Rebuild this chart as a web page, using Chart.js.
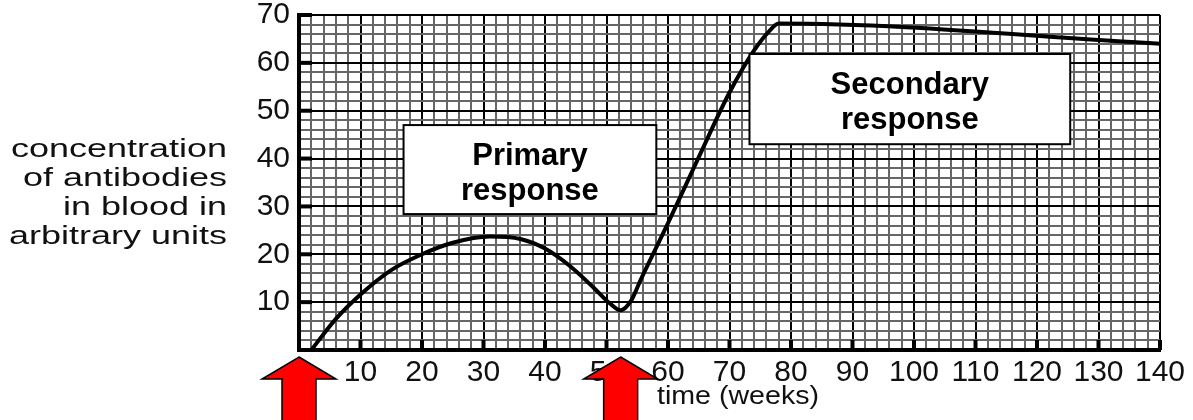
<!DOCTYPE html>
<html>
<head>
<meta charset="utf-8">
<script src="https://cdn.jsdelivr.net/npm/chart.js@4.4.0/dist/chart.umd.min.js"></script>
<style>
  html, body { margin: 0; padding: 0; background: #fff; }
</style>
</head>
<body>
<canvas id="myChart" width="1193" height="420"></canvas>
<script>
// data
var weeks      = [2, 6, 10, 15, 20, 25, 31, 36, 40, 44, 48, 50.5, 52.3, 54, 55.5, 60, 65, 70, 74, 76.5, 78, 140];
var antibodies = [0, 6.5, 11.6, 16.7, 20.0, 22.4, 23.7, 23.2, 21.2, 17.6, 12.9, 9.8, 8.3, 10.3, 14.5, 26.5, 40.3, 53.8, 62.6, 66.7, 68.2, 64];

var xTickLabels = [10, 20, 30, 40, 50, 60, 70, 80, 90, 100, 110, 120, 130, 140];
var yTickLabels = [10, 20, 30, 40, 50, 60, 70];

var yTitleLines = ['concentration', 'of antibodies', 'in blood in', 'arbitrary units'];
var xTitle = 'time (weeks)';

// text boxes, in weeks / units
var boxLines  = [['Primary', 'response'], ['Secondary', 'response']];
var boxWeeks  = [[17, 58.1], [73.25, 125.4]];
var boxLevels = [[47, 28.4], [61.85, 43]];

// antigen injections
var injectionWeeks = [0, 52.3];

var FONT = '"Liberation Sans", Arial, Helvetica, sans-serif';

function gridColor(c) {
  return c.tick.value % 10 === 0 ? '#000' : '#666';
}

function drawArrow(ctx, cx, tipY) {
  ctx.beginPath();
  ctx.moveTo(cx, tipY);
  ctx.lineTo(cx + 37, tipY + 22);
  ctx.lineTo(cx + 17, tipY + 22);
  ctx.lineTo(cx + 17, 425);
  ctx.lineTo(cx - 17, 425);
  ctx.lineTo(cx - 17, tipY + 22);
  ctx.lineTo(cx - 37, tipY + 22);
  ctx.closePath();
  ctx.fillStyle = '#ff0000';
  ctx.fill();
  ctx.lineWidth = 1.5;
  ctx.strokeStyle = '#000';
  ctx.stroke();
}

// stretched text, the picture is wider than normal type
function stretchText(ctx, s, x, y, sx, align) {
  ctx.save();
  ctx.translate(x, y);
  ctx.scale(sx, 1);
  ctx.textAlign = align;
  ctx.fillText(s, 0, 0);
  ctx.restore();
}

const extras = {
  id: 'extras',
  afterDatasetsDraw(chart) {
    const ctx = chart.ctx;
    const x = chart.scales.x, y = chart.scales.y;
    ctx.save();
    // short ticks inside the axes
    ctx.fillStyle = '#000';
    xTickLabels.forEach(v => {
      const px = x.getPixelForValue(v);
      ctx.fillRect(px - 2, y.bottom - 10, 4, 10);
    });
    yTickLabels.forEach(v => {
      const py = y.getPixelForValue(v);
      ctx.fillRect(x.left, py - 2, 13, 4);
    });
    // response boxes
    boxLines.forEach((lines, i) => {
      const l = x.getPixelForValue(boxWeeks[i][0]);
      const r = x.getPixelForValue(boxWeeks[i][1]);
      const t = y.getPixelForValue(boxLevels[i][0]);
      const b = y.getPixelForValue(boxLevels[i][1]);
      ctx.fillStyle = '#fff';
      ctx.fillRect(l, t, r - l, b - t);
      ctx.lineWidth = 2;
      ctx.strokeStyle = '#000';
      ctx.strokeRect(l, t, r - l, b - t);
      ctx.fillStyle = '#000';
      ctx.font = 'bold 31px ' + FONT;
      ctx.textAlign = 'center';
      ctx.textBaseline = 'alphabetic';
      lines.forEach((s, k) => ctx.fillText(s, (l + r) / 2, t + 40 + k * 35));
    });
    ctx.restore();
  },
  afterDraw(chart) {
    const ctx = chart.ctx;
    const x = chart.scales.x, y = chart.scales.y;
    ctx.save();
    // y title
    ctx.fillStyle = '#111';
    ctx.font = '26px ' + FONT;
    ctx.textBaseline = 'middle';
    const sx = 216 / ctx.measureText(yTitleLines[0]).width;
    yTitleLines.forEach((s, i) => {
      stretchText(ctx, s, x.left - 72, 150 + i * 29, sx, 'right');
    });
    // x title
    stretchText(ctx, xTitle, 738, 397, 1.1, 'center');
    // arrows
    injectionWeeks.forEach(w => drawArrow(ctx, x.getPixelForValue(w), y.bottom + 7));
    ctx.restore();
  }
};

const chartConfig = {
  type: 'line',
  data: {
    datasets: [{
      data: weeks.map((w, i) => ({ x: w, y: antibodies[i] })),
      borderColor: '#000',
      borderWidth: 4,
      pointRadius: 0,
      fill: false,
      cubicInterpolationMode: 'monotone'
    }]
  },
  options: {
    responsive: false,
    animation: false,
    layout: { padding: { left: 0, right: 33, top: 15, bottom: 0 } },
    plugins: {
      legend: { display: false },
      title: { display: false },
      tooltip: { enabled: false }
    },
    scales: {
      x: {
        type: 'linear',
        min: 0,
        max: 140,
        afterFit: s => { s.height = 70; s.paddingLeft = 0; s.paddingRight = 0; },
        ticks: {
          stepSize: 2,
          autoSkip: false,
          maxRotation: 0,
          minRotation: 0,
          padding: 5,
          color: '#111',
          font: { size: 30, family: FONT },
          callback: v => xTickLabels.includes(v) ? String(v) : ''
        },
        grid: {
          drawTicks: false,
          color: gridColor,
          lineWidth: 2
        },
        border: { display: true, color: '#000', width: 4 }
      },
      y: {
        min: 0,
        max: 70,
        afterFit: s => { s.width = 299; s.paddingTop = 0; s.paddingBottom = 0; },
        ticks: {
          stepSize: 2,
          autoSkip: false,
          padding: 9,
          color: '#111',
          font: { size: 30, family: FONT },
          callback: v => yTickLabels.includes(v) ? String(v) : ''
        },
        grid: {
          drawTicks: false,
          color: gridColor,
          lineWidth: 2
        },
        border: { display: true, color: '#000', width: 4 }
      }
    }
  },
  plugins: [extras]
};

var myChart = new Chart(document.getElementById('myChart'), chartConfig);
</script>
</body>
</html>
